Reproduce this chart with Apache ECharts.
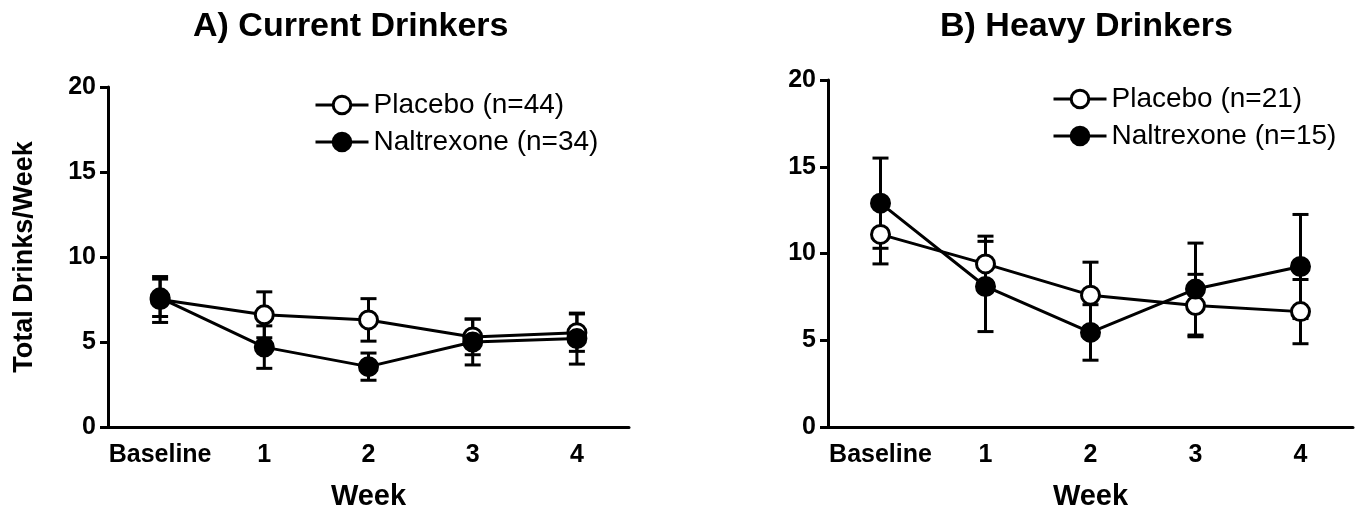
<!DOCTYPE html>
<html>
<head>
<meta charset="utf-8">
<script src="https://cdn.jsdelivr.net/npm/echarts@6/dist/echarts.min.js"></script>
<style>
html,body{margin:0;padding:0;background:#fff;}
#chart{width:1363px;height:516px;}
</style>
</head>
<body>
<div id="chart"></div>
<script>
const categories = ['Baseline', '1', '2', '3', '4'];
const yTicks = [0, 5, 10, 15, 20];

const placeboA = [7.5, 6.6, 6.3, 5.3, 5.55];
const placeboAErr = [1.35, 1.35, 1.25, 1.05, 1.1];
const naltrexoneA = [7.6, 4.7, 3.55, 5.0, 5.2];
const naltrexoneAErr = [1.1, 1.25, 0.8, 1.35, 1.5];

const placeboB = [11.1, 9.4, 7.6, 7.0, 6.65];
const placeboBErr = [1.7, 1.6, 1.9, 1.8, 1.85];
const naltrexoneB = [12.9, 8.1, 5.45, 7.95, 9.25];
const naltrexoneBErr = [2.6, 2.6, 1.6, 2.65, 3.0];

const titleA = 'A) Current Drinkers';
const titleB = 'B) Heavy Drinkers';
const namePlaceboA = 'Placebo (n=44)';
const nameNaltA = 'Naltrexone (n=34)';
const namePlaceboB = 'Placebo (n=21)';
const nameNaltB = 'Naltrexone (n=15)';
const xName = 'Week';
const yName = 'Total Drinks/Week';

const FONT = '"Liberation Sans", Arial, Helvetica, sans-serif';
const chart = echarts.init(document.getElementById('chart'), null, {renderer: 'canvas'});

function errRender(params, api) {
  const x = api.value(0), y = api.value(1), e = api.value(2);
  const top = api.coord([x, y + e]);
  const bot = api.coord([x, y - e]);
  const hw = 8;
  const st = {stroke: '#000', lineWidth: 3};
  return {
    type: 'group',
    children: [
      {type: 'line', shape: {x1: top[0], y1: top[1], x2: bot[0], y2: bot[1]}, style: st},
      {type: 'line', shape: {x1: top[0] - hw, y1: top[1], x2: top[0] + hw, y2: top[1]}, style: st},
      {type: 'line', shape: {x1: bot[0] - hw, y1: bot[1], x2: bot[0] + hw, y2: bot[1]}, style: st}
    ]
  };
}

function xAxisCfg(idx) {
  return {
    type: 'category', gridIndex: idx, data: categories, boundaryGap: true,
    name: xName, nameLocation: 'middle', nameGap: 55,
    nameTextStyle: {fontFamily: FONT, fontWeight: 'bold', fontSize: 29, color: '#000'},
    axisLine: {lineStyle: {color: '#000', width: 3}},
    axisTick: {alignWithLabel: true, interval: 0, length: 9, lineStyle: {color: '#000', width: 3}},
    axisLabel: {interval: 0, fontFamily: FONT, fontWeight: 'bold', fontSize: 25, color: '#000', margin: 16},
    splitLine: {show: false}
  };
}
function yAxisCfg(idx, withName) {
  const c = {
    type: 'value', gridIndex: idx, min: yTicks[0], max: yTicks[yTicks.length - 1], interval: 5,
    axisLine: {show: true, lineStyle: {color: '#000', width: 3}},
    axisTick: {show: true, length: 8, lineStyle: {color: '#000', width: 3}},
    axisLabel: {fontFamily: FONT, fontWeight: 'bold', fontSize: 25, color: '#000', margin: 12},
    splitLine: {show: false}
  };
  if (withName) {
    c.name = yName; c.nameLocation = 'middle'; c.nameGap = 70;
    c.nameTextStyle = {fontFamily: FONT, fontWeight: 'bold', fontSize: 27, color: '#000'};
  }
  return c;
}
function lineSeries(name, data, idx, filled, z) {
  return {
    type: 'line', name: name, data: data, xAxisIndex: idx, yAxisIndex: idx,
    symbol: 'circle', symbolSize: 18, z: z,
    lineStyle: {color: '#000', width: 3},
    itemStyle: {color: filled ? '#000' : '#fff', borderColor: '#000', borderWidth: 3},
    emphasis: {disabled: true}, animation: false
  };
}
function errSeries(vals, errs, idx) {
  return {
    type: 'custom', xAxisIndex: idx, yAxisIndex: idx, z: 1,
    data: vals.map((v, i) => [i, v, errs[i]]),
    encode: {x: 0, y: 1},
    renderItem: errRender, animation: false, silent: true
  };
}
function legendCfg(names, left, top) {
  return {
    data: names, orient: 'vertical', left: left, top: top,
    itemWidth: 53, itemHeight: 22, itemGap: 9,
    lineStyle: {width: 3, color: '#000'},
    itemStyle: {borderWidth: 3, borderColor: '#000'},
    textStyle: {fontFamily: FONT, fontSize: 28, color: '#000'},
    selectedMode: false
  };
}

chart.setOption({
  backgroundColor: '#fff',
  animation: false,
  title: [
    {text: titleA, left: 188, top: 5, textStyle: {fontFamily: FONT, fontWeight: 'bold', fontSize: 34, color: '#000'}},
    {text: titleB, left: 935, top: 5, textStyle: {fontFamily: FONT, fontWeight: 'bold', fontSize: 34, color: '#000'}}
  ],
  legend: [
    legendCfg([namePlaceboA, nameNaltA], 309, 86),
    legendCfg([namePlaceboB, nameNaltB], 1047, 80)
  ],
  grid: [
    {left: 108, top: 87, width: 521, height: 346},
    {left: 828, top: 80, width: 525, height: 352}
  ],
  xAxis: [xAxisCfg(0), xAxisCfg(1)],
  yAxis: [yAxisCfg(0, true), yAxisCfg(1, false)],
  series: [
    errSeries(placeboA, placeboAErr, 0),
    errSeries(naltrexoneA, naltrexoneAErr, 0),
    lineSeries(namePlaceboA, placeboA, 0, false, 3),
    lineSeries(nameNaltA, naltrexoneA, 0, true, 4),
    errSeries(placeboB, placeboBErr, 1),
    errSeries(naltrexoneB, naltrexoneBErr, 1),
    lineSeries(namePlaceboB, placeboB, 1, false, 3),
    lineSeries(nameNaltB, naltrexoneB, 1, true, 4)
  ]
});
</script>
</body>
</html>
